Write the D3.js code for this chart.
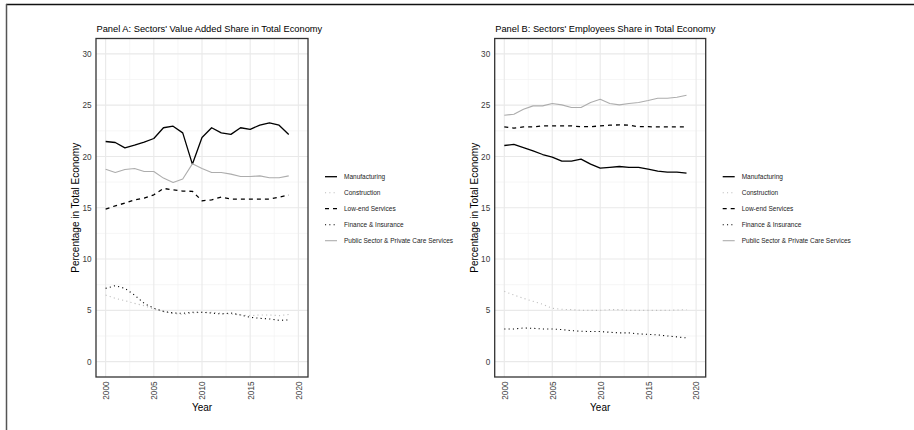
<!DOCTYPE html>
<html>
<head>
<meta charset="utf-8">
<script src="https://cdn.jsdelivr.net/npm/d3@7/dist/d3.min.js"></script>
<style>
  body { margin: 0; background: #fff; }
  svg { display: block; }
  text { font-family: "Liberation Sans", Arial, sans-serif; }
</style>
</head>
<body>
<svg id="chart" width="914" height="430"></svg>
<script>
// categories
const years = [2000, 2001, 2002, 2003, 2004, 2005, 2006, 2007, 2008, 2009,
               2010, 2011, 2012, 2013, 2014, 2015, 2016, 2017, 2018, 2019];
const sectors = ["Manufacturing", "Construction", "Low-end Services",
                 "Finance & Insurance", "Public Sector & Private Care Services"];
const xBreaks = [2000, 2005, 2010, 2015, 2020];
const yBreaks = [0, 5, 10, 15, 20, 25, 30];

// Panel A: value added share (%)
const vaManufacturing = [21.46, 21.36, 20.84, 21.1, 21.4, 21.75, 22.8, 22.95, 22.3, 19.25,
                         21.85, 22.8, 22.3, 22.15, 22.8, 22.65, 23.05, 23.27, 23.05, 22.15];
const vaConstruction  = [6.49, 6.17, 5.94, 5.68, 5.45, 5.13, 4.87, 4.71, 4.58, 4.74,
                         4.81, 4.81, 4.71, 4.64, 4.55, 4.48, 4.55, 4.55, 4.48, 4.6];
const vaLowEnd        = [14.87, 15.19, 15.45, 15.77, 15.94, 16.26, 16.88, 16.75, 16.62, 16.6,
                         15.68, 15.77, 16.04, 15.84, 15.84, 15.84, 15.84, 15.84, 16.04, 16.23];
const vaFinance       = [7.14, 7.4, 7.14, 6.49, 5.68, 5.2, 4.9, 4.74, 4.71, 4.81,
                         4.81, 4.74, 4.64, 4.74, 4.55, 4.32, 4.22, 4.16, 4.03, 4.06];
const vaPublic        = [18.76, 18.44, 18.73, 18.83, 18.54, 18.54, 17.89, 17.47, 17.8, 19.28,
                         18.83, 18.44, 18.44, 18.28, 18.05, 18.05, 18.11, 17.92, 17.92, 18.11];

// Panel B: employees share (%)
const empManufacturing = [21.07, 21.17, 20.87, 20.55, 20.19, 19.93, 19.54, 19.54, 19.74, 19.25,
                          18.86, 18.93, 19.02, 18.93, 18.93, 18.76, 18.57, 18.47, 18.47, 18.37];
const empConstruction  = [6.85, 6.49, 6.17, 5.88, 5.59, 5.2, 5.1, 5.07, 5.0, 5.0,
                          5.0, 5.07, 5.07, 5.0, 5.0, 5.0, 5.0, 5.0, 5.03, 5.07];
const empLowEnd        = [22.88, 22.76, 22.88, 22.88, 22.98, 22.98, 22.98, 22.98, 22.9, 22.9,
                          22.98, 23.05, 23.08, 23.05, 22.9, 22.9, 22.88, 22.88, 22.88, 22.88];
const empFinance       = [3.18, 3.18, 3.28, 3.25, 3.18, 3.18, 3.12, 3.02, 2.96, 2.93,
                          2.93, 2.86, 2.8, 2.8, 2.7, 2.66, 2.6, 2.5, 2.41, 2.31];
const empPublic        = [24.02, 24.12, 24.6, 24.93, 24.93, 25.16, 25.03, 24.77, 24.77, 25.26,
                          25.58, 25.16, 25.03, 25.16, 25.26, 25.45, 25.68, 25.68, 25.77, 25.97];

// line look per sector
const styles = {
    "Manufacturing": { color: "#000", width: 1.3, dash: null },
    "Construction": { color: "#bdbdbd", width: 1.1, dash: "1.1,3.2" },
    "Low-end Services": { color: "#000", width: 1.3, dash: "4,4" },
    "Finance & Insurance": { color: "#000", width: 1.1, dash: "1.1,3.2" },
    "Public Sector & Private Care Services": { color: "#adadad", width: 1.1, dash: null }
};

const panels = [
    { title: "Panel A: Sectors' Value Added Share in Total Economy", left: 96, right: 308, legendX: 325,
      values: [vaManufacturing, vaConstruction, vaLowEnd, vaFinance, vaPublic] },
    { title: "Panel B: Sectors' Employees Share in Total Economy", left: 494.7, right: 705.7, legendX: 722.7,
      values: [empManufacturing, empConstruction, empLowEnd, empFinance, empPublic] }
];

const plotTop = 38.5, plotBottom = 377;
const svg = d3.select("#chart");

// frame lines of the screenshot
svg.append("line").attr("x1", 6).attr("x2", 914).attr("y1", 4.5).attr("y2", 4.5)
    .attr("stroke", "#111").attr("stroke-width", 1.5);
svg.append("line").attr("x1", 6.5).attr("x2", 6.5).attr("y1", 4).attr("y2", 430)
    .attr("stroke", "#555").attr("stroke-width", 1.5);

function midpoints(arr) {
    let out = [];
    for (let i = 0; i < arr.length - 1; i++) out.push((arr[i] + arr[i + 1]) / 2);
    return out;
}

panels.forEach(function (p) {
    let x = d3.scaleLinear().domain([1999, 2021]).range([p.left, p.right]),
        y = d3.scaleLinear().domain([-1.5, 31.5]).range([plotBottom, plotTop]);

    let g = svg.append("g");

    // minor + major grid
    let grid = g.append("g").attr("class", "grid");
    midpoints(xBreaks).forEach(v => grid.append("line")
        .attr("x1", x(v)).attr("x2", x(v)).attr("y1", plotTop).attr("y2", plotBottom)
        .attr("stroke", "#f2f2f2").attr("stroke-width", 0.7));
    midpoints(yBreaks).forEach(v => grid.append("line")
        .attr("x1", p.left).attr("x2", p.right).attr("y1", y(v)).attr("y2", y(v))
        .attr("stroke", "#f2f2f2").attr("stroke-width", 0.7));
    xBreaks.forEach(v => grid.append("line")
        .attr("x1", x(v)).attr("x2", x(v)).attr("y1", plotTop).attr("y2", plotBottom)
        .attr("stroke", "#e9e9e9").attr("stroke-width", 1.1));
    yBreaks.forEach(v => grid.append("line")
        .attr("x1", p.left).attr("x2", p.right).attr("y1", y(v)).attr("y2", y(v))
        .attr("stroke", "#e9e9e9").attr("stroke-width", 1.1));

    // series
    let line = d3.line().x((d, i) => x(years[i])).y(d => y(d));
    sectors.forEach(function (s, i) {
        let st = styles[s];
        g.append("path")
            .datum(p.values[i])
            .attr("d", line)
            .attr("fill", "none")
            .attr("stroke", st.color)
            .attr("stroke-width", st.width)
            .attr("stroke-dasharray", st.dash)
            .attr("stroke-linejoin", "round");
    });

    // panel border
    g.append("rect")
        .attr("x", p.left).attr("y", plotTop)
        .attr("width", p.right - p.left).attr("height", plotBottom - plotTop)
        .attr("fill", "none").attr("stroke", "#333").attr("stroke-width", 1.3);

    // y axis
    let yAxis = g.append("g")
        .attr("transform", "translate(" + p.left + ",0)")
        .call(d3.axisLeft(y).tickValues(yBreaks).tickSize(0).tickPadding(4.5));
    yAxis.select(".domain").remove();
    yAxis.selectAll("text").attr("fill", "#3a3a3a").style("font-size", "8.2px");

    // x axis, labels turned up
    let xAxis = g.append("g")
        .attr("transform", "translate(0," + plotBottom + ")")
        .call(d3.axisBottom(x).tickValues(xBreaks).tickFormat(d3.format("d")).tickSize(0));
    xAxis.select(".domain").remove();
    xAxis.selectAll("text")
        .attr("fill", "#3a3a3a").style("font-size", "8.2px")
        .attr("transform", "rotate(-90)")
        .attr("text-anchor", "end")
        .attr("x", -4.5).attr("y", 0).attr("dy", "0.35em");

    // titles
    g.append("text").attr("x", p.left + 0.5).attr("y", 32)
        .attr("fill", "#000").style("font-size", "9.3px").text(p.title);
    g.append("text")
        .attr("transform", "translate(" + (p.left - 17) + "," + (plotTop + plotBottom) / 2 + ") rotate(-90)")
        .attr("text-anchor", "middle").attr("fill", "#000").style("font-size", "10px")
        .text("Percentage in Total Economy");
    g.append("text").attr("x", (p.left + p.right) / 2).attr("y", 411)
        .attr("text-anchor", "middle").attr("fill", "#000").style("font-size", "10px")
        .text("Year");

    // legend
    let lg = g.append("g").attr("transform", "translate(" + p.legendX + ",176.7)");
    sectors.forEach(function (s, i) {
        let st = styles[s];
        let row = lg.append("g").attr("transform", "translate(0," + (i * 16) + ")");
        row.append("line").attr("x1", 0).attr("x2", 12).attr("y1", 0).attr("y2", 0)
            .attr("stroke", st.color).attr("stroke-width", st.width)
            .attr("stroke-dasharray", st.dash);
        row.append("text").attr("x", 19).attr("y", 0).attr("dy", "0.35em")
            .attr("fill", "#222").style("font-size", "6.5px").text(s);
    });
});
</script>
</body>
</html>
